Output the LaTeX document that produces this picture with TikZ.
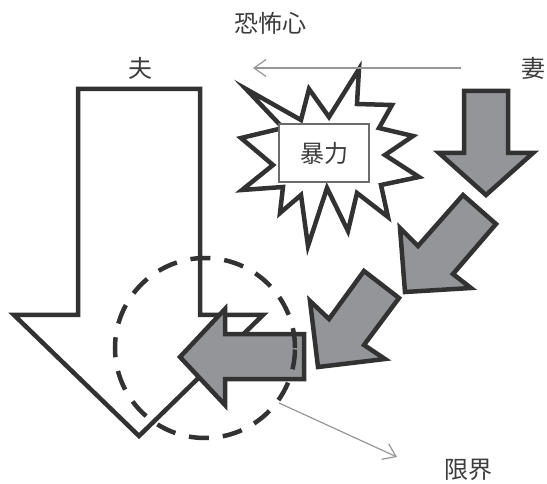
\documentclass[tikz,border=0pt]{standalone}
\usepackage{fontspec}
\newfontfamily\jp{Noto Sans CJK JP}
\usetikzlibrary{arrows.meta}
\definecolor{inkdark}{RGB}{50,50,50}
\definecolor{arrowgray}{RGB}{147,149,153}
\definecolor{thingray}{RGB}{150,150,150}
\definecolor{txt}{RGB}{60,60,60}
\tikzset{
  bigshape/.style={draw=inkdark, line width=4.5pt, line join=miter, miter limit=20},
  whiteshape/.style={bigshape, fill=white},
  grayshape/.style={bigshape, fill=arrowgray},
  label/.style={font=\jp\fontsize{24}{26}\selectfont, text=txt, inner sep=0pt},
  thinarrow/.style={draw=thingray, line width=1.2pt, -{Straight Barb[length=12pt,width=17pt,line width=1.2pt]}},
  limitcircle/.style={draw=inkdark, line width=4.5pt, dash pattern=on 20pt off 14pt}
}
\begin{document}
\begin{tikzpicture}[x=1pt, y=-1pt]
\useasboundingbox (0,0) rectangle (547,484);
% big white arrow (husband)
\path[whiteshape] (78,89) -- (200,89) -- (200,315) -- (263,315) -- (139,436)
  -- (14,315) -- (78,315) -- cycle;
% explosion
\path[whiteshape] (246,89) -- (301,120) -- (309,89) -- (329,117) -- (359,69)
  -- (357,104) -- (392,105) -- (379,128) -- (413,136) -- (385,155)
  -- (419,177) -- (381,185) -- (388,217) -- (357,193) -- (348,231)
  -- (327,188) -- (308,246) -- (301,195) -- (280,213) -- (283,187)
  -- (242,190) -- (273,165) -- (241,138) -- (283,128) -- cycle;
\node[label, draw=gray!85!black, line width=1.2pt, fill=white,
  minimum width=90pt, minimum height=58pt] (violence) at (324,153) {暴力};
% gray arrows (wife)
\path[grayshape] (464,91) -- (508,91) -- (508,153) -- (533,153) -- (486,195)
  -- (439,153) -- (464,153) -- cycle;
\path[grayshape] (463,195) -- (496,224) -- (453,274) -- (471,288) -- (405,292)
  -- (400,228) -- (418,246) -- cycle;
\path[grayshape] (364,271) -- (399,298) -- (364,345) -- (385,359) -- (318,367)
  -- (310,301) -- (329,319) -- cycle;
\path[grayshape] (180,357) -- (225,309) -- (225,334) -- (304,334) -- (304,379)
  -- (225,379) -- (225,405) -- cycle;
% limit circle
\node[limitcircle, circle, minimum size=180pt, inner sep=0pt] (limit) at (205,348) {};
% labels
\node[label] (fear) at (270,23) {恐怖心};
\node[label] (husband) at (140,68) {夫};
\node[label] (wife) at (533,68) {妻};
\node[label] (limittext) at (468,470) {限界};
% thin arrows
\coordinate (fearstart) at (461,68);
\coordinate (fearend) at (253,68);
\draw[thinarrow] (fearstart) -- (fearend);
\coordinate (limitstart) at (279,403);
\coordinate (limitend) at (397,457);
\draw[thinarrow] (limitstart) -- (limitend);
\end{tikzpicture}
\end{document}
